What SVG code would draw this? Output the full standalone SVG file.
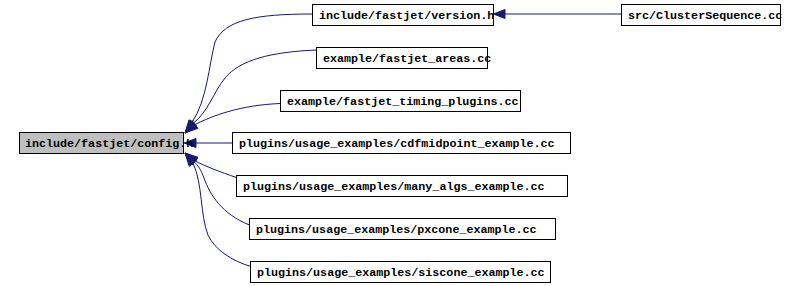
<svg xmlns="http://www.w3.org/2000/svg" width="796" height="286" viewBox="0 0 796 286">
<style>
.box{fill:#ffffff;stroke:#000000;stroke-width:1}
.cur{fill:#bfbfbf}
.lbl{font-family:"Liberation Mono","DejaVu Sans Mono",monospace;font-size:11.7px;font-weight:bold;fill:#000000}
.edge{fill:none;stroke:#191970;stroke-width:1}
.head{fill:#191970;stroke:#191970;stroke-width:1}
</style>
<rect width="796" height="286" fill="#ffffff"/>
<g id="connectors">
<path class="edge" d="M621.5,14 L505,14"/>
<polygon class="head" points="493.5,14 505,9.5 505,18.5"/>
<path class="edge" d="M312.5,14 C255,14 225,20 215,42 C209,65 207,100 192,122.5"/>
<polygon class="head" points="185,133 189,119.8 195.5,125"/>
<path class="edge" d="M316.5,50 C270,52 240,60 225,78 C213,93 208,112 193.5,123"/>
<polygon class="head" points="185,133 190.3,120 196.8,126"/>
<path class="edge" d="M280.5,103.5 C240,105 212,116 195,124.5"/>
<polygon class="head" points="185,133 192.2,120.6 197.9,128.3"/>
<path class="edge" d="M232.5,143 L196,143"/>
<polygon class="head" points="184,143 196,138.5 196,147.5"/>
<path class="edge" d="M236.5,177.5 C220,172 205,166 195,161"/>
<polygon class="head" points="185,153 192.2,165 197.9,157.2"/>
<path class="edge" d="M249.5,225 C222,214 210,195 204,178 C201,170 198,165 194,162"/>
<polygon class="head" points="185,153 190.6,165.6 197.6,158.6"/>
<path class="edge" d="M251,266.5 C232,261 215,250 208,235 C200,215 203,185 193,163"/>
<polygon class="head" points="185,153 189.2,166.3 196.8,160.1"/>
</g>
<g id="node-config">
<rect class="box cur" x="19.5" y="132.5" width="164" height="21"/>
<text class="lbl" x="25" y="147">include/fastjet/config.h</text>
</g>
<g id="node-version">
<rect class="box" x="312.5" y="4.5" width="181" height="21"/>
<text class="lbl" x="319" y="19">include/fastjet/version.h</text>
</g>
<g id="node-clustersequence">
<rect class="box" x="621.5" y="4.5" width="159" height="21"/>
<text class="lbl" x="628" y="19">src/ClusterSequence.cc</text>
</g>
<g id="node-areas">
<rect class="box" x="316.5" y="47.5" width="171" height="21"/>
<text class="lbl" x="323" y="62">example/fastjet_areas.cc</text>
</g>
<g id="node-timing">
<rect class="box" x="280.5" y="90.5" width="240" height="21"/>
<text class="lbl" x="287" y="105">example/fastjet_timing_plugins.cc</text>
</g>
<g id="node-cdfmidpoint">
<rect class="box" x="232.5" y="132.5" width="338" height="21"/>
<text class="lbl" x="239" y="147">plugins/usage_examples/cdfmidpoint_example.cc</text>
</g>
<g id="node-manyalgs">
<rect class="box" x="236.5" y="175.5" width="331" height="21"/>
<text class="lbl" x="243" y="190">plugins/usage_examples/many_algs_example.cc</text>
</g>
<g id="node-pxcone">
<rect class="box" x="249.5" y="218.5" width="306" height="21"/>
<text class="lbl" x="256" y="233">plugins/usage_examples/pxcone_example.cc</text>
</g>
<g id="node-siscone">
<rect class="box" x="250.5" y="261.5" width="300" height="21"/>
<text class="lbl" x="257" y="276">plugins/usage_examples/siscone_example.cc</text>
</g>
</svg>
